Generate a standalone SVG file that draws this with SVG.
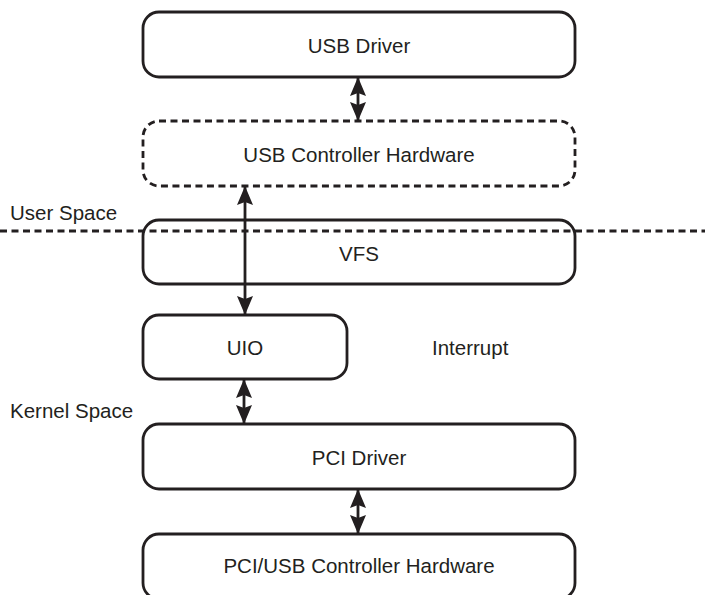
<svg xmlns="http://www.w3.org/2000/svg" width="705" height="595" viewBox="0 0 705 595">
<style>
.box{fill:#fff;stroke:#231f20;stroke-width:2.8}
.dash{stroke-dasharray:7 4.5}
.t{font-family:"Liberation Sans",Arial,sans-serif;font-size:20.5px;fill:#231f20}
.c{text-anchor:middle}
.conn{stroke:#231f20;stroke-width:2.8;fill:none}
</style>
<defs>
<marker id="ah" viewBox="0 0 19 16" refX="18" refY="8" markerWidth="19" markerHeight="16" markerUnits="userSpaceOnUse" orient="auto-start-reverse">
<path d="M0,0 L19,8 L0,16 L3,8 z" fill="#231f20"/>
</marker>
</defs>
<rect width="705" height="595" fill="#fff"/>
<g id="usb-driver"><rect class="box" x="143" y="12" width="432" height="65" rx="16"/><text class="t c" x="359" y="53">USB Driver</text></g>
<g id="usb-ctrl-hw"><rect class="box dash" x="143" y="121" width="432" height="65" rx="16"/><text class="t c" x="359" y="162">USB Controller Hardware</text></g>
<g id="vfs"><rect class="box" x="143" y="220" width="432" height="64" rx="16"/><text class="t c" x="359" y="261">VFS</text></g>
<g id="uio"><rect class="box" x="143" y="315" width="204" height="64" rx="16"/><text class="t c" x="245" y="355">UIO</text></g>
<g id="pci-driver"><rect class="box" x="143" y="424" width="432" height="65" rx="16"/><text class="t c" x="359" y="465">PCI Driver</text></g>
<g id="pci-usb-hw"><rect class="box" x="143" y="534" width="432" height="65" rx="16"/><text class="t c" x="359" y="573">PCI/USB Controller Hardware</text></g>
<g id="labels">
<line class="conn dash" x1="0" y1="231" x2="705" y2="231"/>
<text class="t" x="10" y="220">User Space</text>
<text class="t" x="10" y="418">Kernel Space</text>
<text class="t" x="432" y="355">Interrupt</text>
</g>
<g id="connectors">
<line class="conn" x1="358" y1="78" x2="358" y2="120" marker-start="url(#ah)" marker-end="url(#ah)"/>
<line class="conn" x1="245" y1="187" x2="245" y2="314" marker-start="url(#ah)" marker-end="url(#ah)"/>
<line class="conn" x1="244" y1="380" x2="244" y2="423" marker-start="url(#ah)" marker-end="url(#ah)"/>
<line class="conn" x1="358" y1="490" x2="358" y2="533" marker-start="url(#ah)" marker-end="url(#ah)"/>
</g>
</svg>
